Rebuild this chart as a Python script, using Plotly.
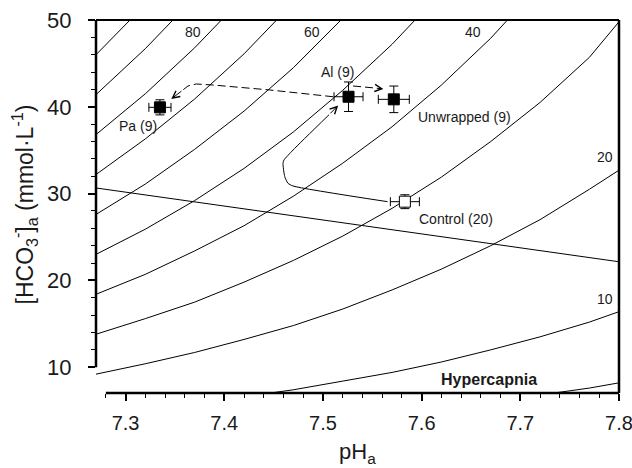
import plotly.graph_objects as go

# ---------------- data ----------------
# isopleth grid (pH) and HCO3 values for each PCO2 isopleth
iso_ph = [7.27, 7.32, 7.37, 7.42, 7.47, 7.52, 7.57, 7.62, 7.67, 7.72, 7.77, 7.80]
iso_100 = [46.0, 51.8, 58.5]
iso_90 = [41.4, 46.7, 52.6]
iso_80 = [36.8, 41.5, 46.8, 52.7]
iso_70 = [32.2, 36.3, 40.9, 46.1, 52.0]
iso_60 = [27.6, 31.1, 35.1, 39.5, 44.5, 50.2, 56.6]
iso_50 = [23.0, 25.9, 29.2, 32.9, 37.1, 41.9, 47.2, 53.2]
iso_40 = [18.4, 20.7, 23.4, 26.3, 29.7, 33.5, 37.7, 42.5, 47.9, 54.1]
iso_30 = [13.8, 15.6, 17.5, 19.8, 22.3, 25.1, 28.3, 31.9, 36.0, 40.5, 45.7, 49.8]
iso_20 = [9.2, 10.4, 11.7, 13.2, 14.8, 16.7, 18.9, 21.3, 24.0, 27.0, 30.5, 32.7]
iso_10 = [4.6, 5.2, 5.8, 6.6, 7.4, 8.4, 9.4, 10.6, 12.0, 13.5, 15.2, 16.4]
iso_5 = [2.3, 2.6, 2.9, 3.3, 3.7, 4.2, 4.7, 5.3, 6.0, 6.8, 7.6, 8.2]
isopleths = [iso_100, iso_90, iso_80, iso_70, iso_60, iso_50, iso_40,
             iso_30, iso_20, iso_10, iso_5]

# isopleth labels
iso_label_text = ["80", "60", "40", "20", "10"]
iso_label_ph = [7.368, 7.4886, 7.652, 7.7855, 7.786]
iso_label_hco3 = [48.62, 48.62, 48.6, 34.19, 17.89]

# non-bicarbonate buffer line
buffer_ph = [7.27, 7.80]
buffer_hco3 = [30.65, 22.15]

# group means
group_names = ["Pa (9)", "Al (9)", "Unwrapped (9)", "Control (20)"]
group_ph = [7.3348, 7.5259, 7.5718, 7.5830]
group_hco3 = [39.94, 41.16, 40.86, 29.07]
group_ph_err = [0.0112, 0.0147, 0.0157, 0.0147]
group_hco3_err = [0.87, 1.70, 1.53, 0.80]
group_filled = [True, True, True, False]

# group label positions
glabel_ph = [7.3124, 7.5148, 7.6433, 7.6347]
glabel_hco3 = [37.81, 44.0, 38.82, 27.11]

# arrow paths
path_ai_pa_ph = [7.5103, 7.4460, 7.3885, 7.3717, 7.3632, 7.3581]
path_ai_pa_hco3 = [41.16, 41.94, 42.51, 42.63, 42.40, 41.94]
tip_ai_pa = (7.3463, 40.90)

path_ai_un_ph = [7.5305, 7.5530]
path_ai_un_hco3 = [42.40, 42.16]
tip_ai_un = (7.5612, 42.05)

path_c_ai_ph = [7.5654, 7.4697, 7.4646, 7.4613, 7.4595, 7.4605, 7.4697, 7.5061]
path_c_ai_hco3 = [29.07, 30.88, 31.19, 31.95, 33.49, 33.87, 35.02, 39.08]
tip_c_ai = (7.5154, 40.15)

x_major = [7.3, 7.4, 7.5, 7.6, 7.7, 7.8]
x_minor = [7.28, 7.32, 7.34, 7.36, 7.38, 7.42, 7.44, 7.46, 7.48, 7.52, 7.54,
           7.56, 7.58, 7.62, 7.64, 7.66, 7.68, 7.72, 7.74, 7.76, 7.78]
y_major = [10, 20, 30, 40, 50]
y_minor = [12, 14, 16, 18, 22, 24, 26, 28, 32, 34, 36, 38, 42, 44, 46, 48]

FONT = "Liberation Sans, Arial, sans-serif"
TXT = "#1a1a1a"

fig = go.Figure()

for vals in isopleths:
    fig.add_trace(go.Scatter(x=iso_ph[:len(vals)], y=vals, mode="lines",
                             line=dict(color="black", width=1),
                             hoverinfo="skip", showlegend=False))

fig.add_trace(go.Scatter(x=buffer_ph, y=buffer_hco3, mode="lines",
                         line=dict(color="black", width=1),
                         hoverinfo="skip", showlegend=False))

# arrow bodies
fig.add_trace(go.Scatter(x=path_ai_pa_ph, y=path_ai_pa_hco3, mode="lines",
                         line=dict(color="black", width=1, dash="8px,4px"),
                         hoverinfo="skip", showlegend=False))
fig.add_trace(go.Scatter(x=path_ai_un_ph, y=path_ai_un_hco3, mode="lines",
                         line=dict(color="black", width=1, dash="8px,4px"),
                         hoverinfo="skip", showlegend=False))
fig.add_trace(go.Scatter(x=path_c_ai_ph, y=path_c_ai_hco3, mode="lines",
                         line=dict(color="black", width=1, shape="spline", smoothing=0.6),
                         hoverinfo="skip", showlegend=False))

# means with error bars
for i in range(len(group_names)):
    fig.add_trace(go.Scatter(
        x=[group_ph[i]], y=[group_hco3[i]], mode="markers",
        marker=dict(symbol="square", size=11,
                    color="black" if group_filled[i] else "white",
                    line=dict(color="black", width=1)),
        error_x=dict(type="data", array=[group_ph_err[i]], color="black",
                     thickness=1, width=4.5),
        error_y=dict(type="data", array=[group_hco3_err[i]], color="black",
                     thickness=1, width=4.5),
        hoverinfo="skip", showlegend=False))

annotations = []
for t, px, py in zip(iso_label_text, iso_label_ph, iso_label_hco3):
    annotations.append(dict(x=px, y=py, xref="x", yref="y", text=t,
                            showarrow=False, font=dict(family=FONT, size=14, color=TXT),
                            xanchor="center", yanchor="middle"))
for t, px, py in zip(group_names, glabel_ph, glabel_hco3):
    annotations.append(dict(x=px, y=py, xref="x", yref="y", text=t,
                            showarrow=False, font=dict(family=FONT, size=14, color=TXT),
                            xanchor="center", yanchor="middle"))
annotations.append(dict(x=7.6682, y=8.53, xref="x", yref="y", text="<b>Hypercapnia</b>",
                        showarrow=False, font=dict(family=FONT, size=16, color=TXT),
                        xanchor="center", yanchor="middle"))

# arrow heads
for tail, tip in [((path_ai_pa_ph[-1], path_ai_pa_hco3[-1]), tip_ai_pa),
                  ((path_ai_un_ph[-1], path_ai_un_hco3[-1]), tip_ai_un),
                  ((path_c_ai_ph[-1], path_c_ai_hco3[-1]), tip_c_ai)]:
    annotations.append(dict(x=tip[0], y=tip[1], ax=tail[0], ay=tail[1],
                            xref="x", yref="y", axref="x", ayref="y", text="",
                            showarrow=True, arrowhead=5, arrowsize=1.4,
                            arrowwidth=1, arrowcolor="black"))

# axis titles
annotations.append(dict(x=0.5, y=-0.162, xref="paper", yref="paper",
                        text="pH<sub>a</sub>", showarrow=False,
                        font=dict(family=FONT, size=22, color=TXT),
                        xanchor="center", yanchor="middle"))
annotations.append(dict(x=-0.138, y=0.505, xref="paper", yref="paper",
                        text="[HCO<sub>3</sub><sup>-</sup>]<sub>a</sub> (mmol·L<sup>-1</sup>)",
                        showarrow=False, textangle=-90,
                        font=dict(family=FONT, size=23, color=TXT),
                        xanchor="center", yanchor="middle"))

shapes = [
    dict(type="line", xref="paper", yref="y", x0=0, x1=0, y0=10, y1=50,
         line=dict(color="black", width=2.5)),
    dict(type="line", xref="paper", yref="paper", x0=0, x1=1, y0=1, y1=1,
         line=dict(color="black", width=2)),
    dict(type="line", xref="paper", yref="paper", x0=1, x1=1, y0=0, y1=1,
         line=dict(color="black", width=2.5)),
    dict(type="line", xref="x", yref="paper", x0=7.28, x1=7.8, y0=0, y1=0,
         line=dict(color="black", width=2.5)),
]

fig.update_layout(
    width=632, height=468,
    margin=dict(l=96, r=13, t=20, b=75, autoexpand=False),
    paper_bgcolor="white", plot_bgcolor="white",
    font=dict(family=FONT, color=TXT),
    showlegend=False,
    annotations=annotations,
    shapes=shapes,
    xaxis=dict(range=[7.27, 7.8], showline=False, showgrid=False, zeroline=False,
               automargin=False, ticklabeloverflow="allow",
               tickmode="array", tickvals=x_major, ticktext=[f"{v:.1f}" for v in x_major],
               ticks="outside", ticklen=7, tickwidth=2, tickcolor="black",
               ticklabelstandoff=5,
               tickfont=dict(family=FONT, size=20, color=TXT),
               minor=dict(tickmode="array", tickvals=x_minor, ticks="outside",
                          ticklen=4, tickwidth=1, tickcolor="black")),
    yaxis=dict(range=[7.03, 50], showline=False, showgrid=False, zeroline=False,
               automargin=False, ticklabeloverflow="allow",
               tickmode="array", tickvals=y_major, ticktext=[str(v) for v in y_major],
               ticks="outside", ticklen=7, tickwidth=2, tickcolor="black",
               ticklabelstandoff=12,
               tickfont=dict(family=FONT, size=22, color=TXT),
               minor=dict(tickmode="array", tickvals=y_minor, ticks="outside",
                          ticklen=4, tickwidth=1, tickcolor="black")),
)

# remove the page's default body margin so the 632x468 figure fills the window exactly
fig.write_html(
    "out.html",
    config={"displayModeBar": False, "staticPlot": True},
    post_script="document.body.style.margin='0';"
                "document.body.style.overflow='hidden';"
                "document.documentElement.style.overflow='hidden';",
)
